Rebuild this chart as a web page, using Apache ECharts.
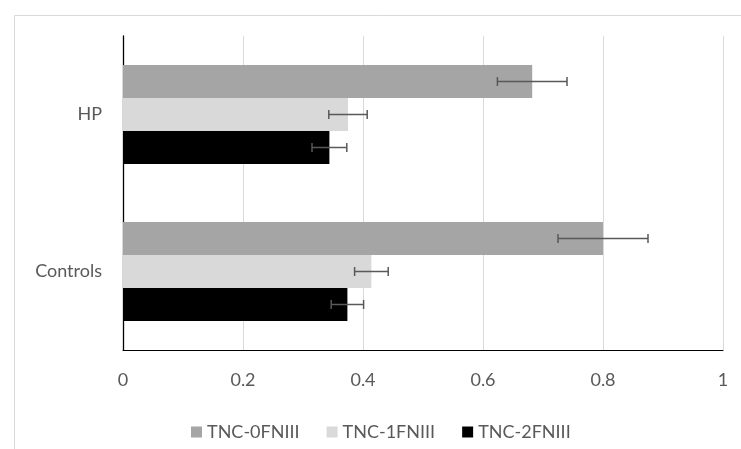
<!DOCTYPE html>
<html>
<head>
<meta charset="utf-8">
<script src="https://cdn.jsdelivr.net/npm/echarts@6/dist/echarts.min.js"></script>
<style>
html,body{margin:0;padding:0;background:#fff;}
#chart{width:741px;height:449px;}
</style>
</head>
<body>
<div id="chart"></div>
<script>
const categories = ['Controls', 'HP'];
const seriesNames = ['TNC-0FNIII', 'TNC-1FNIII', 'TNC-2FNIII'];
const values0 = [0.800, 0.682];
const values1 = [0.414, 0.375];
const values2 = [0.374, 0.344];
const errors0 = [0.075, 0.058];
const errors1 = [0.028, 0.032];
const errors2 = [0.027, 0.029];
const xMin = 0, xMax = 1, xStep = 0.2;

const colors = ['#a5a5a5', '#d9d9d9', '#000000'];
const textColor = '#595959';
const fontFamily = 'Lato, "Liberation Sans", sans-serif';
const gapFrac = 0.37;
const allValues = [values0, values1, values2];
const allErrors = [errors0, errors1, errors2];

function errRender(idx) {
  return function (params, api) {
    const cat = api.value(1), v = api.value(0), e = api.value(2);
    const c = api.coord([v, cat]);
    const band = api.size([0, 1])[1];
    const total = band * (1 - gapFrac);
    const bw = total / 3;
    const y = c[1] - total / 2 + bw * (idx + 0.5);
    const x1 = api.coord([v - e, cat])[0];
    const x2 = api.coord([v + e, cat])[0];
    const st = { stroke: '#595959', lineWidth: 1.5 };
    const cap = 4.5;
    return {
      type: 'group',
      children: [
        { type: 'line', shape: { x1: x1, y1: y, x2: x2, y2: y }, style: st },
        { type: 'line', shape: { x1: x1, y1: y - cap, x2: x1, y2: y + cap }, style: st },
        { type: 'line', shape: { x1: x2, y1: y - cap, x2: x2, y2: y + cap }, style: st }
      ]
    };
  };
}

const series = [];
seriesNames.forEach((name, i) => {
  series.push({
    name: name,
    type: 'bar',
    data: allValues[i],
    itemStyle: { color: colors[i] },
    barGap: '0%',
    barCategoryGap: (gapFrac * 100) + '%',
    silent: true
  });
});
seriesNames.forEach((name, i) => {
  series.push({
    name: 'err' + i,
    type: 'custom',
    renderItem: errRender(i),
    data: allValues[i].map((v, k) => [v, k, allErrors[i][k]]),
    encode: { x: 0, y: 1 },
    z: 10,
    silent: true
  });
});

const chart = echarts.init(document.getElementById('chart'), null, { renderer: 'canvas' });
chart.setOption({
  animation: false,
  backgroundColor: '#ffffff',
  graphic: [{
    type: 'rect',
    left: 12, top: 13,
    shape: { x: 0, y: 0, width: 800, height: 500 },
    style: { fill: 'none', stroke: '#d9d9d9', lineWidth: 1 },
    z: -10
  }],
  grid: { left: 123, right: 18, top: 36, bottom: 99, containLabel: false },
  legend: {
    data: seriesNames,
    left: 186, top: 418,
    itemWidth: 11, itemHeight: 11, itemGap: 27,
    icon: 'rect',
    textStyle: { color: textColor, fontSize: 18, fontFamily: fontFamily },
    selectedMode: false
  },
  xAxis: {
    type: 'value',
    min: xMin, max: xMax, interval: xStep,
    axisLine: { show: true, lineStyle: { color: '#000', width: 1 } },
    axisTick: { show: false },
    splitLine: { show: true, lineStyle: { color: '#d9d9d9', width: 1 } },
    axisLabel: { color: textColor, fontSize: 18, fontFamily: fontFamily, margin: 21 }
  },
  yAxis: {
    type: 'category',
    data: categories,
    axisLine: { show: true, lineStyle: { color: '#000', width: 1.3 } },
    axisTick: { show: false },
    axisLabel: { color: textColor, fontSize: 18, fontFamily: fontFamily, margin: 21 }
  },
  series: series
});
</script>
</body>
</html>
